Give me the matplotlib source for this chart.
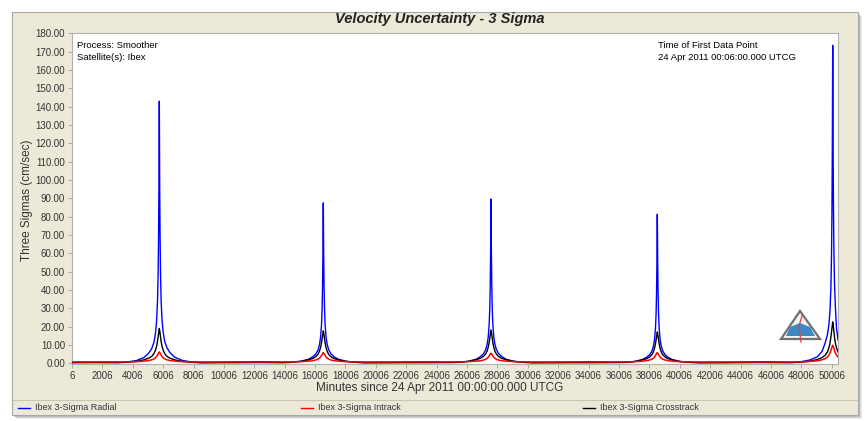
import numpy as np
import matplotlib
matplotlib.use("Agg")
from matplotlib import pyplot as plt
from matplotlib.patches import Rectangle, Polygon
from matplotlib.lines import Line2D

plt.rcParams['font.family'] = ['Liberation Sans', 'DejaVu Sans']

# times of the five perigee spikes (minutes) and sample offsets around them
peak_centers = [5752, 16545, 27582, 38528, 50072]
peak_offsets = [-2200, -1500, -1000, -700, -500, -350, -250, -180, -120, -80, -50, -25, 0,
                25, 50, 80, 120, 180, 250, 350, 500, 700, 1000, 1500, 2200]

radial_peaks = [
    [0.6, 1.5, 3.2, 5.5, 8.0, 11.5, 16.5, 23.0, 33.5, 47.5, 67.5, 96.1, 143.0,
     97.0, 69.0, 49.0, 34.0, 23.5, 17.0, 12.2, 8.5, 5.8, 3.4, 1.6, 0.6],
    [0.5, 1.1, 2.1, 3.5, 5.0, 7.2, 10.2, 14.2, 20.6, 29.2, 41.4, 58.9, 87.5,
     59.5, 42.0, 29.8, 21.0, 14.5, 10.5, 7.5, 5.2, 3.6, 2.2, 1.1, 0.5],
    [0.5, 1.1, 2.1, 3.6, 5.1, 7.3, 10.5, 14.5, 21.1, 29.9, 42.4, 60.3, 89.6,
     61.0, 43.0, 30.5, 21.5, 14.8, 10.7, 7.6, 5.3, 3.7, 2.2, 1.1, 0.5],
    [0.5, 1.0, 2.0, 3.3, 4.7, 6.7, 9.5, 13.2, 19.2, 27.1, 38.5, 54.8, 81.3,
     55.5, 39.0, 27.6, 19.4, 13.4, 9.7, 6.9, 4.8, 3.3, 2.0, 1.0, 0.5],
    [0.7, 1.8, 3.6, 6.5, 11.0, 15.5, 21.0, 28.5, 41.0, 58.0, 82.0, 117.0, 173.4,
     120.0, 85.0, 61.0, 43.0, 30.0, 19.0, 12.8, 9.5, 6.5, 4.0, 2.0, 0.8],
]

intrack_peaks = [
    [0.75, 0.9, 1.2, 1.5, 1.9, 2.4, 3.0, 3.7, 4.45, 5.1, 5.6, 6.0, 6.2,
     6.0, 5.6, 5.1, 4.45, 3.7, 3.0, 2.4, 1.9, 1.5, 1.2, 0.9, 0.75],
    [0.75, 0.9, 1.15, 1.45, 1.8, 2.3, 2.85, 3.45, 4.2, 4.8, 5.25, 5.6, 5.8,
     5.6, 5.25, 4.8, 4.2, 3.45, 2.85, 2.3, 1.8, 1.45, 1.15, 0.9, 0.75],
    [0.75, 0.9, 1.15, 1.4, 1.75, 2.2, 2.75, 3.3, 4.0, 4.5, 5.0, 5.3, 5.5,
     5.3, 5.0, 4.5, 4.0, 3.3, 2.75, 2.2, 1.75, 1.4, 1.15, 0.9, 0.75],
    [0.75, 0.9, 1.15, 1.45, 1.8, 2.3, 2.85, 3.45, 4.2, 4.8, 5.25, 5.6, 5.8,
     5.6, 5.25, 4.8, 4.2, 3.45, 2.85, 2.3, 1.8, 1.45, 1.15, 0.9, 0.75],
    [0.8, 1.0, 1.4, 1.9, 2.5, 3.4, 4.5, 5.6, 6.9, 8.0, 8.8, 9.4, 9.8,
     9.4, 8.8, 8.0, 6.9, 5.6, 4.5, 3.4, 2.5, 1.9, 1.4, 1.0, 0.8],
]

crosstrack_peaks = [
    [0.5, 1.0, 1.9, 2.8, 3.8, 5.3, 7.2, 9.2, 11.9, 14.4, 16.4, 17.9, 19.0,
     17.9, 16.4, 14.4, 11.9, 9.2, 7.2, 5.3, 3.8, 2.8, 1.9, 1.0, 0.5],
    [0.5, 1.0, 1.8, 2.6, 3.6, 4.9, 6.7, 8.6, 11.1, 13.4, 15.3, 16.7, 17.7,
     16.7, 15.3, 13.4, 11.1, 8.6, 6.7, 4.9, 3.6, 2.6, 1.8, 1.0, 0.5],
    [0.5, 1.0, 1.9, 2.7, 3.7, 5.1, 6.8, 8.9, 11.4, 13.8, 15.7, 17.1, 18.2,
     17.1, 15.7, 13.8, 11.4, 8.9, 6.8, 5.1, 3.7, 2.7, 1.9, 1.0, 0.5],
    [0.5, 0.9, 1.8, 2.5, 3.5, 4.8, 6.4, 8.3, 10.7, 12.9, 14.8, 16.1, 17.1,
     16.1, 14.8, 12.9, 10.7, 8.3, 6.4, 4.8, 3.5, 2.5, 1.8, 0.9, 0.5],
    [0.5, 1.1, 2.1, 3.1, 4.4, 6.1, 8.4, 10.9, 14.2, 17.1, 19.5, 21.3, 22.6,
     21.3, 19.5, 17.1, 14.2, 10.9, 8.4, 6.2, 4.4, 3.1, 2.1, 1.1, 0.5],
]

# quiet stretches between the spikes
base_t = [6, 1500, 3000, 8500, 10500, 12500, 13800, 19300, 21300, 23300, 24800,
          30300, 32300, 34300, 35800, 41300, 43300, 45300, 47300]
base_radial = [0.3, 0.4, 0.3, 0.3, 0.3, 0.4, 0.3, 0.3, 0.3, 0.3, 0.4,
               0.3, 0.3, 0.3, 0.4, 0.3, 0.3, 0.4, 0.3]
base_intrack = [0.7, 0.7, 0.7, 0.7, 0.7, 0.7, 0.7, 0.7, 0.7, 0.7, 0.7,
                0.7, 0.7, 0.7, 0.7, 0.7, 0.7, 0.7, 0.7]
base_cross = [0.5, 0.5, 0.5, 0.4, 0.6, 0.9, 0.5, 0.4, 0.5, 0.8, 0.5,
              0.4, 0.5, 0.8, 0.5, 0.4, 0.5, 0.8, 0.5]

x_ticks = list(range(6, 50007, 2000))
y_ticks = list(range(0, 181, 10))

# assemble the series
t = list(base_t)
rad, intr, cross = list(base_radial), list(base_intrack), list(base_cross)
for i, c in enumerate(peak_centers):
    t += [c + o for o in peak_offsets]
    rad += radial_peaks[i]
    intr += intrack_peaks[i]
    cross += crosstrack_peaks[i]
order = np.argsort(t)
t = np.array(t)[order]
rad = np.array(rad)[order]
intr = np.array(intr)[order]
cross = np.array(cross)[order]

W, H = 868, 421
fig = plt.figure(figsize=(W / 100, H / 100), dpi=100)
fig.patch.set_facecolor('white')


def fx(x):
    return x / W


def fy(y):
    return 1 - y / H


# panel with a soft shadow
for k, a in [(4, 0.15), (3, 0.2), (2, 0.3)]:
    fig.patches.append(Rectangle((fx(12 + k), fy(415 + k)), fx(846), 403 / H,
                                 transform=fig.transFigure, facecolor='#808080',
                                 alpha=a, edgecolor='none', zorder=-3))
fig.patches.append(Rectangle((fx(12), fy(415)), fx(846), 403 / H, transform=fig.transFigure,
                             facecolor='#ECE9D8', edgecolor='#A8A8A8', lw=0.8, zorder=-2))
fig.lines.append(Line2D([fx(13), fx(857)], [fy(400), fy(400)], transform=fig.transFigure,
                        color='#C8C5B4', lw=0.8, zorder=-1))

ax = fig.add_axes([fx(72), fy(364.2), fx(838.3 - 72), (364.2 - 33.3) / H])
ax.set_zorder(2)
ax.set_facecolor('white')
ax.plot(t, rad, color='#0000FF', lw=1.0, zorder=3)
ax.plot(t, cross, color='black', lw=1.0, zorder=4)
ax.plot(t, intr, color='#FF0000', lw=1.1, zorder=5)

ax.set_xlim(6, 50440)
ax.set_ylim(-0.5, 180)
ax.set_xticks(x_ticks)
ax.set_xticklabels([str(v) for v in x_ticks])
ax.set_yticks(y_ticks)
ax.set_yticklabels(['%.2f' % v for v in y_ticks])
ax.tick_params(labelsize=7, colors='#333333', length=3, width=0.6, pad=2)
ax.tick_params(axis='both', color='#A0A0A0')
for s in ax.spines.values():
    s.set_color('#B0B0B0')
    s.set_linewidth(0.8)

fig.text(fx(440), fy(388), 'Minutes since 24 Apr 2011 00:00:00.000 UTCG',
         ha='center', va='center', fontsize=8.5, color='#333333')
fig.text(fx(27), fy(200), 'Three Sigmas (cm/sec)', rotation=90,
         ha='center', va='center', fontsize=8.5, color='#333333')
fig.text(fx(440), fy(19), 'Velocity Uncertainty - 3 Sigma', ha='center', va='center',
         fontsize=10.5, fontweight='bold', fontstyle='italic', color='#222222')

fig.text(fx(77), fy(45), 'Process: Smoother', ha='left', va='center', fontsize=6.8, zorder=6)
fig.text(fx(77), fy(57), 'Satellite(s): Ibex', ha='left', va='center', fontsize=6.8, zorder=6)
fig.text(fx(658), fy(45), 'Time of First Data Point', ha='left', va='center',
         fontsize=6.8, zorder=6)
fig.text(fx(658), fy(57), '24 Apr 2011 00:06:00.000 UTCG', ha='left', va='center',
         fontsize=6.8, zorder=6)

# logo
fig.patches.append(Polygon([(fx(800), fy(311)), (fx(781), fy(339)), (fx(820), fy(339))],
                           closed=True, transform=fig.transFigure, facecolor='#F4F4F4',
                           edgecolor='#707070', lw=1.6, zorder=6))
fig.patches.append(Polygon([(fx(786), fy(336)), (fx(790), fy(327)), (fx(800), fy(323)),
                            (fx(810), fy(327)), (fx(815), fy(336))],
                           closed=True, transform=fig.transFigure, facecolor='#3F87C0',
                           edgecolor='none', zorder=7))
fig.lines.append(Line2D([fx(801), fx(799), fx(802)], [fy(342), fy(326), fy(316)],
                        transform=fig.transFigure, color='#E04040', lw=0.9, zorder=8))

# legend strip
legend_items = [('Ibex 3-Sigma Radial', '#0000FF', 18),
                ('Ibex 3-Sigma Intrack', '#FF0000', 301),
                ('Ibex 3-Sigma Crosstrack', 'black', 583)]
for label, col, x0 in legend_items:
    fig.lines.append(Line2D([fx(x0), fx(x0 + 12)], [fy(408), fy(408)],
                            transform=fig.transFigure, color=col, lw=1.0, zorder=3))
    fig.text(fx(x0 + 17), fy(408), label, ha='left', va='center', fontsize=6.5,
             color='#333333')

fig.savefig('out.png', dpi=100)
